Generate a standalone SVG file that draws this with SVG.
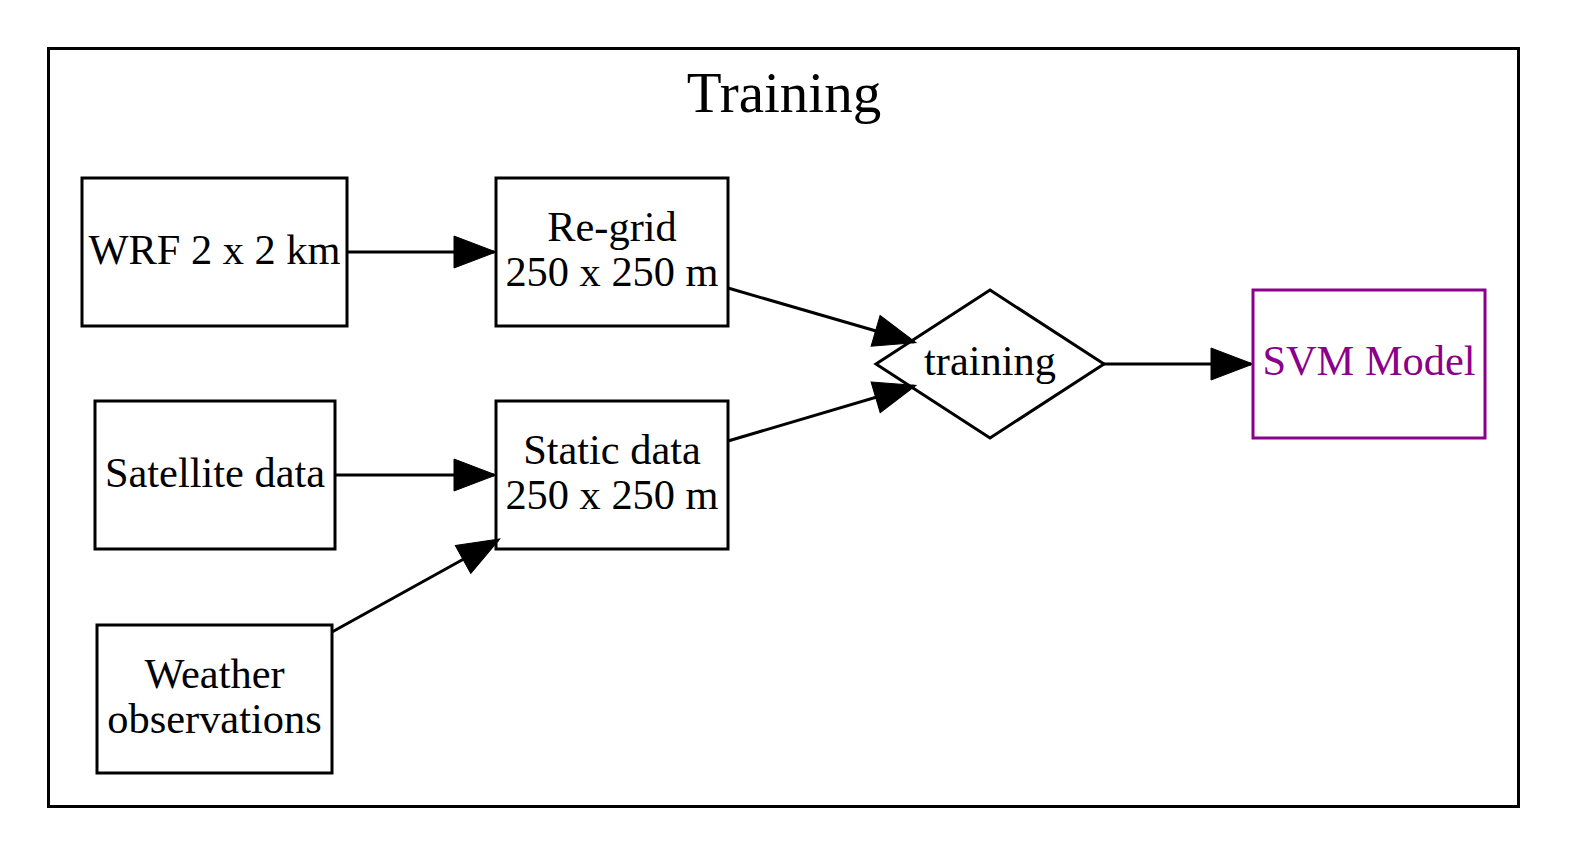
<svg xmlns="http://www.w3.org/2000/svg" width="1579" height="862" viewBox="0 0 1579 862">
<style>
.box{fill:none;stroke:#000;stroke-width:3}
.t{font-family:"Liberation Serif","Times New Roman",serif;font-size:42.4px;text-anchor:middle;fill:#000}
.e{stroke:#000;stroke-width:3;fill:none;marker-end:url(#ah)}
</style>
<defs>
<marker id="ah" markerUnits="userSpaceOnUse" markerWidth="44" markerHeight="34" refX="40" refY="16" orient="auto" overflow="visible">
<path d="M0,0 L42,16 L0,32 z" fill="#000" stroke="#000" stroke-width="1"/>
</marker>
</defs>
<rect width="1579" height="862" fill="#fff"/>
<g id="cluster_training">
<rect x="48.5" y="48.5" width="1470" height="758" fill="none" stroke="#000" stroke-width="3"/>
<text x="784" y="112" style="font-family:'Liberation Serif','Times New Roman',serif;font-size:57px;text-anchor:middle">Training</text>
</g>
<g id="edges">
<line class="e" x1="347" y1="252" x2="494" y2="252"/>
<line class="e" x1="335" y1="475" x2="494" y2="475"/>
<line class="e" x1="332" y1="632" x2="498" y2="540"/>
<line class="e" x1="728" y1="288" x2="914" y2="342"/>
<line class="e" x1="728" y1="441" x2="914" y2="386"/>
<line class="e" x1="1104" y1="364" x2="1251" y2="364"/>
</g>
<g id="wrf">
<rect class="box" x="82" y="178" width="265" height="148"/>
<text class="t" x="214.5" y="264">WRF 2 x 2 km</text>
</g>
<g id="regrid">
<rect class="box" x="496" y="178" width="232" height="148"/>
<text class="t" x="612" y="241">Re-grid</text>
<text class="t" x="612" y="286">250 x 250 m</text>
</g>
<g id="satellite">
<rect class="box" x="95" y="401" width="240" height="148"/>
<text class="t" x="215" y="487">Satellite data</text>
</g>
<g id="static">
<rect class="box" x="496" y="401" width="232" height="148"/>
<text class="t" x="612" y="464">Static data</text>
<text class="t" x="612" y="509">250 x 250 m</text>
</g>
<g id="weather">
<rect class="box" x="97" y="625" width="235" height="148"/>
<text class="t" x="214.5" y="688">Weather</text>
<text class="t" x="214.5" y="733">observations</text>
</g>
<g id="training">
<polygon class="box" points="990,290 1104,364 990,438 876,364"/>
<text class="t" x="990" y="375">training</text>
</g>
<g id="svm">
<rect x="1253" y="290" width="232" height="148" fill="none" stroke="#8b008b" stroke-width="3"/>
<text class="t" x="1369" y="375" style="fill:#8b008b">SVM Model</text>
</g>
</svg>
